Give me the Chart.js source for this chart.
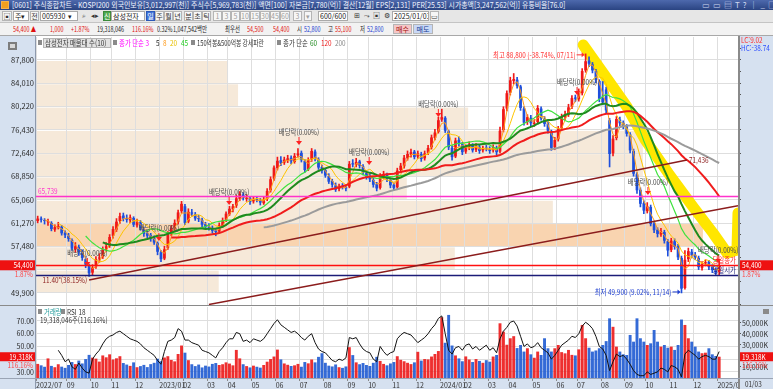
<!DOCTYPE html>
<html lang="ko">
<head>
<meta charset="utf-8">
<title>주식종합차트</title>
<script src="https://cdn.jsdelivr.net/npm/chart.js@4.4.1/dist/chart.umd.min.js"></script>
<style>
  body { margin:0; width:773px; height:389px; overflow:hidden; position:relative; background:#fff;
         font-family:"Noto Sans CJK KR","Noto Sans",sans-serif; font-size:8px; }
  .t { position:absolute; white-space:nowrap; line-height:12px; font-size:8px; transform:scaleX(0.78); transform-origin:0 50%; }
  #title { position:absolute; left:0; top:0; width:773px; height:10px; background:linear-gradient(#4d69ad,#2a4482); color:#f2f5ff; overflow:hidden; }
  #title .t { line-height:10px; top:0; }
  #tool { position:absolute; left:0; top:10px; width:773px; height:13px; background:#e6e6e6; border-bottom:1px solid #c4c4c4; box-sizing:border-box; }
  #info { position:absolute; left:0; top:23px; width:773px; height:13px; background:#f2f2f2; border-bottom:1px solid #a8a8a8; box-sizing:border-box; }
  #info .t { font-size:7.5px; transform:scaleX(0.72); }
  .box { position:absolute; top:1px; height:10px; background:#fff; border:1px solid #a9a9a9; box-sizing:border-box; line-height:8px; font-size:7px; padding-left:1px; white-space:nowrap; color:#222; overflow:hidden; }
  .btn { position:absolute; top:1px; height:10px; background:#f6f6f6; border:1px solid #b5b5b5; box-sizing:border-box; line-height:8px; text-align:center; font-size:7px; color:#333; }
  .off { color:#a0a0a0; }
  canvas { position:absolute; left:0; }
  #pc { top:36px; }
  #vc { top:306px; }
  #sep { position:absolute; left:0; top:305px; width:773px; height:1px; background:#8a8a8a; }
</style>
</head>
<body>
<div id="title">
  <div style="position:absolute;left:1px;top:1px;width:8px;height:8px;background:#f0a020;border:1px solid #fff3;box-sizing:border-box"></div>
  <span class="t" id="ttl" style="left:12px">[0601] 주식종합차트 - KOSPI200 외국인보유[3,012,997(천)] 주식수[5,969,783(천)] 액면[100] 자본금[7,780(억)] 결산[12월] EPS[2,131] PER[25.53] 시가총액[3,247,562(억)] 유통비율[76.0]</span>
  <span class="t" style="left:702px;color:#cfd8f0;letter-spacing:3px;transform:none">▭▭▤T?│_□×</span>
</div>
<div id="tool">
  <div class="btn" style="left:2px;width:10px">▣</div>
  <div class="box" style="left:13px;width:16px">주▾</div>
  <div class="btn" style="left:30px;width:9px">전</div>
  <div class="box" style="left:40px;width:38px">005930&nbsp;&nbsp;▾</div>
  <div class="btn" style="left:79px;width:9px;background:none;border:none">⌕</div>
  <div class="btn" style="left:88px;width:13px;background:none;border:none">◂▸</div>
  <div class="btn" style="left:103px;width:8px;background:#4ea84e;color:#fff;border-color:#3a8a3a">신</div>
  <div class="box" style="left:111px;width:34px">삼성전자</div>
  <div class="btn" style="left:146px;width:9px;background:#3f72d8;color:#fff;border-color:#2b58b8">일</div>
  <div class="btn" style="left:155px;width:9px">주</div>
  <div class="btn" style="left:164px;width:9px">월</div>
  <div class="btn" style="left:173px;width:9px">년</div>
  <div class="btn" style="left:184px;width:9px">분</div>
  <div class="btn" style="left:193px;width:9px">초</div>
  <div class="btn" style="left:202px;width:9px">틱</div>
  <div class="btn off" style="left:213px;width:9px">1</div>
  <div class="btn off" style="left:222px;width:9px">3</div>
  <div class="btn off" style="left:231px;width:9px">5</div>
  <div class="btn off" style="left:240px;width:10px">10</div>
  <div class="btn off" style="left:250px;width:10px">15</div>
  <div class="btn off" style="left:260px;width:10px">30</div>
  <div class="btn off" style="left:270px;width:10px">45</div>
  <div class="btn off" style="left:280px;width:10px">60</div>
  <div class="btn off" style="left:293px;width:9px">3</div>
  <div class="btn off" style="left:304px;width:8px">▾</div>
  <div class="box" style="left:318px;width:30px;text-align:right;padding-right:1px">600/600</div>
  <div class="btn" style="left:352px;width:9px;background:none;border:none">⊞</div>
  <div class="btn" style="left:362px;width:9px;background:none;border:none">⤳</div>
  <div class="btn" style="left:372px;width:9px;background:none;border:none">▣</div>
  <div class="btn" style="left:382px;width:9px;background:none;border:none">⚙</div>
  <div class="box" style="left:392px;width:37px">2025/01/03</div>
  <div class="btn" style="left:430px;width:9px">▭</div>
</div>
<div id="info">
  <span class="t" style="left:13px;color:#e01010">54,400 ▲</span>
  <span class="t" style="left:50px;color:#e01010">1,000</span>
  <span class="t" style="left:71px;color:#e01010">+1.87%</span>
  <span class="t" style="left:97px;color:#222">19,318,046</span>
  <span class="t" style="left:132px;color:#e01010">116.16%</span>
  <span class="t" style="left:157px;color:#222">0.32%</span>
  <span class="t" style="left:173px;color:#222">1,047,542백만</span>
  <span class="t" style="left:225px;color:#222">최우선</span>
  <span class="t" style="left:247px;color:#e01010">54,500</span>
  <span class="t" style="left:273px;color:#e01010">54,400</span>
  <span class="t" style="left:297px;color:#222">시</span>
  <span class="t" style="left:304px;color:#1a3ad0">52,800</span>
  <span class="t" style="left:328px;color:#222">고</span>
  <span class="t" style="left:335px;color:#e01010">55,100</span>
  <span class="t" style="left:360px;color:#222">저</span>
  <span class="t" style="left:367px;color:#1a3ad0">52,800</span>
  <div class="btn" style="left:393px;width:19px;background:#f6c6c6;color:#a01010">매수</div>
  <div class="btn" style="left:413px;width:20px;background:#c8d8f6;color:#1a3a90">매도</div>
</div>
<canvas id="pc" width="773" height="270"></canvas>
<canvas id="vc" width="773" height="83"></canvas>
<div id="sep"></div>
<script>
const F = '"Noto Sans CJK KR","Noto Sans",sans-serif';
const panelBlue = '#d6e1f0';
const upColor = '#f01818', downColor = '#1e4fdc';

// prices in thousand won, one bar = 3 trading days (2022/07/22 ~ 2025/01/03)
const opens = [
  61.6,62.0,61.7,61.4,61.3,60.2,60.5,60.7,59.7,59.2, 58.5,57.0,57.4,56.5,55.4,54.4,53.2,54.2,55.5,55.8,
  57.1,57.6,59.2,60.2,61.6,62.5,62.1,61.7,62.1,60.9, 61.4,60.3,59.6,59.3,58.9,58.0,56.5,55.5,57.2,59.6,
  60.4,61.4,63.2,64.0,61.5,63.0,62.7,62.1,61.8,61.1, 60.7,60.4,60.1,59.9,60.8,61.8,62.7,63.5,64.1,65.2,
  65.9,65.2,65.3,64.8,65.1,65.0,64.5,65.2,66.6,68.5, 70.2,71.5,71.1,71.5,71.9,71.2,72.3,72.7,71.4,70.0,
  71.6,72.9,71.6,70.4,69.9,68.9,68.1,67.4,66.8,67.3, 67.0,67.2,71.0,70.7,71.3,70.5,69.4,68.9,68.3,67.6,
  67.0,68.8,69.1,68.3,67.5,67.1,69.9,70.5,71.8,72.4, 72.9,72.1,72.5,71.8,72.7,73.6,75.1,76.1,78.1,78.4,
  76.2,73.5,72.1,74.8,74.1,72.9,73.5,73.9,73.2,73.7, 73.1,73.5,73.3,73.1,73.5,72.9,76.4,79.9,82.5,84.4,
  84.6,83.5,79.9,77.7,78.4,77.4,77.7,79.9,78.2,77.5, 76.2,73.6,74.9,76.7,78.5,78.9,80.2,81.7,81.4,82.4,
  86.1,87.7,87.1,86.0,84.4,81.6,83.0,78.0,72.6,75.1, 78.1,77.6,77.0,75.7,73.0,69.2,66.7,64.5,63.2,63.9,
  61.2,60.2,59.4,59.8,58.3,56.9,58.3,57.5,55.6,50.7, 55.4,56.6,56.1,55.6,54.0,54.7,55.0,54.2,53.7,53.3
];
const highs = [
  62.4,62.3,62.0,61.9,61.5,61.0,61.4,60.9,60.0,59.6, 58.7,58.1,57.7,56.9,55.8,54.6,54.5,55.8,56.3,57.4,
  58.1,59.4,60.7,62.0,62.9,62.9,62.6,62.6,62.3,61.9, 61.7,60.6,60.0,59.6,59.2,58.2,56.8,57.5,59.9,60.9,
  61.8,63.4,64.8,64.3,63.6,63.5,63.0,62.5,62.1,61.4, 61.2,60.8,60.4,61.3,62.1,63.1,64.0,64.3,65.8,66.4,
  66.2,65.9,65.6,65.6,65.6,65.3,65.5,66.9,68.8,70.6, 72.0,72.1,72.0,72.3,72.2,72.6,73.4,73.0,71.6,71.9,
  73.4,73.2,71.9,70.7,70.2,69.3,68.4,67.8,67.6,67.7, 67.4,71.3,71.6,71.8,71.5,70.8,69.8,69.3,68.6,67.9,
  69.3,69.7,69.4,68.6,67.8,70.2,71.0,72.3,73.0,73.3, 73.1,73.0,72.8,73.0,73.9,75.6,76.5,78.5,79.8,78.6,
  76.4,73.8,75.1,75.3,74.4,74.0,74.5,74.2,74.2,74.0, 73.8,73.9,73.7,74.0,73.8,76.9,80.2,82.8,85.0,85.6,
  85.0,83.7,80.2,78.9,78.8,78.1,80.4,80.2,78.6,77.8, 76.4,75.2,77.0,79.0,79.5,80.6,82.0,82.1,83.1,86.4,
  88.8,88.3,87.4,86.3,84.6,84.3,83.4,78.3,75.5,78.6, 78.5,77.9,77.3,76.0,73.3,69.5,67.0,64.9,64.6,64.2,
  61.6,60.5,60.4,60.1,58.6,58.8,58.7,57.8,55.9,56.8, 57.2,57.0,56.5,55.9,55.0,55.3,55.2,54.5,54.0,55.1
];
const lows = [
  61.3,61.4,61.1,60.9,60.0,59.9,60.3,59.3,58.9,58.3, 56.8,56.5,56.0,55.2,54.0,52.6,52.8,53.9,54.9,55.5,
  56.7,57.3,58.8,59.9,61.2,61.6,61.4,61.3,60.7,60.6, 60.1,59.1,58.8,58.3,57.8,56.1,55.0,55.3,57.0,59.2,
  60.1,61.1,62.9,61.0,61.3,62.4,61.7,61.5,60.7,60.3, 60.1,59.6,59.2,59.7,60.6,61.5,62.5,63.1,63.8,64.9,
  65.0,64.8,64.3,64.5,64.7,64.2,64.3,64.9,66.3,68.2, 69.9,70.6,70.8,71.1,70.9,71.0,72.0,71.2,69.5,69.8,
  71.3,71.4,70.0,69.4,68.7,67.7,67.1,66.4,66.5,66.8, 66.5,67.0,70.4,70.4,70.2,69.1,68.4,68.0,67.1,66.5,
  66.8,68.5,68.0,67.0,66.6,66.9,69.5,70.2,71.5,72.0, 71.7,71.8,71.3,71.5,72.4,73.3,74.8,75.9,77.8,76.0,
  73.2,71.5,71.9,73.8,72.4,72.6,73.2,72.8,72.9,72.6, 72.8,73.0,72.6,72.8,72.3,72.7,76.1,79.5,82.1,83.9,
  83.2,79.6,77.2,77.3,77.1,77.0,77.5,78.0,77.0,75.9, 73.1,73.2,74.6,76.4,78.1,78.6,79.9,81.0,81.1,82.1,
  85.8,86.7,85.7,84.1,81.0,80.5,79.2,70.4,72.2,74.8, 77.1,76.6,75.4,72.7,68.9,66.1,63.9,62.8,62.9,60.8,
  59.7,59.0,59.1,58.0,55.9,56.6,57.0,55.3,49.9,50.5, 55.0,55.6,55.3,53.7,53.6,54.3,53.7,53.2,52.8,52.8
];
const closes = [
  62.0,61.8,61.6,61.5,60.3,60.6,60.8,59.6,59.3,58.7, 57.1,57.5,56.6,55.6,54.5,53.1,54.0,55.4,55.6,57.0,
  57.5,59.0,60.3,61.5,62.4,62.0,61.8,62.2,61.0,61.5, 60.4,59.5,59.2,58.8,58.1,56.6,55.4,57.0,59.5,60.5,
  61.3,63.0,64.4,61.3,63.1,62.8,62.0,61.9,61.0,60.6, 60.5,60.0,59.8,60.9,61.7,62.8,63.6,64.0,65.3,66.0,
  65.3,65.4,64.7,65.2,65.0,64.6,65.1,66.5,68.4,70.3, 71.4,71.0,71.6,71.8,71.3,72.2,72.6,71.5,69.9,71.5,
  73.0,71.7,70.3,69.8,69.0,68.0,67.5,66.7,67.2,67.1, 66.9,70.9,70.8,71.2,70.6,69.5,68.8,68.4,67.5,66.9,
  68.9,69.2,68.4,67.4,67.0,69.8,70.6,71.9,72.5,72.8, 72.0,72.6,71.7,72.6,73.5,75.2,76.0,78.0,78.5,76.3,
  73.6,72.0,74.7,74.2,72.8,73.6,74.0,73.1,73.8,73.0, 73.4,73.4,73.0,73.6,72.8,76.3,79.8,82.4,84.5,84.7,
  83.6,80.0,77.6,78.5,77.5,77.6,80.0,78.3,77.4,76.3, 73.5,74.8,76.6,78.6,79.0,80.1,81.6,81.5,82.3,86.0,
  87.6,87.2,86.1,84.5,81.5,80.9,79.6,72.5,75.0,78.2, 77.5,77.1,75.8,73.1,69.3,66.6,64.4,63.3,64.0,61.1,
  60.1,59.5,59.9,58.4,56.8,58.4,57.4,55.7,50.6,55.3, 56.7,56.0,55.7,54.1,54.6,54.9,54.1,53.6,53.2,54.4
];
// volume in thousand shares
const volumes = [
  12800,11500,10200,17800,11000,9800,12500,10300,9200,11800, 14500,12600,15800,13200,17200,21000,18500,17600,14900,20500,
  18800,21500,16800,17900,19800,13600,12200,11000,14200,9800, 10800,11900,9900,12600,13800,17500,15200,18600,19800,16400,
  15100,21800,29500,23000,16200,12500,10800,12200,9600,11200, 10400,12800,13600,11800,12500,14200,13100,11500,25500,17800,
  12500,10800,9600,11200,10200,9400,11800,14800,17200,19500, 25800,16900,13200,12000,10900,11500,12800,10200,14500,13300,
  16800,14200,19200,22500,13800,11200,10500,12300,9800,9200, 10500,28000,20800,14200,12500,13600,11800,10900,13800,19200,
  15500,12800,11500,13200,14500,19800,16500,15200,13800,12600, 14200,23800,15800,17200,16900,19500,21800,24500,55200,32000,
  57300,29500,20500,17800,15200,19600,16800,14500,17200,15500, 13800,16200,14800,19500,20900,49700,42100,30200,36100,38000,
  27200,30000,24000,27000,21500,18400,24000,20900,36100,27000, 24000,27000,30000,23500,22400,25500,21000,20500,26000,48200,
  36100,27500,24000,25000,27000,30000,33500,54200,46500,28500, 24000,21500,20900,39100,33000,54200,36100,33000,30000,31500,
  43600,33000,28500,30000,27500,28500,25500,30000,53100,48200, 36100,33000,28500,24000,22500,23000,27000,21500,20000,19318
];
const rsi18 = [
  null,null,null,null,null,null,47,43,38,40, 34,32,37,33,30,29,40,44,47,52,
  56,58,59,61,62,60,58,56,55,54, 52,49,47,45,43,39,36,46,54,55,
  57,64,62,55,55,53,52,51,47,46, 45,43,41,46,49,53,56,56,61,60,
  54,55,53,56,55,54,56,60,64,68, 71,67,65,63,61,62,60,57,55,58,
  60,53,48,46,45,42,39,38,40,39, 41,57,56,57,52,48,46,45,40,38,
  50,46,43,45,46,56,59,61,60,59, 56,53,55,57,60,64,67,72,74,60,
  47,44,49,50,47,51,52,48,50,47, 49,51,47,49,45,56,62,65,69,70,
  66,58,50,52,49,50,53,49,47,45, 40,43,47,51,53,55,58,57,60,66,
  69,67,64,58,50,48,43,31,38,44, 42,43,40,36,31,28,27,27,30,28,
  29,30,33,32,30,35,34,32,26,44, 47,45,43,40,42,43,42,40,40,46
];
// first bar of each month and its axis label
const monthStarts = [0,9,16,22,29,36,43,50,56,63,70,77,84,91,97,104,111,118,125,132,138,145,152,158,165,172,178,185,192,199];
const monthLabels = ['2022/07','09','10','11','12','2023/01','02','03','04','05','06','07','08','09','10','11','12',
                     '2024/01','02','03','04','05','06','07','08','09','10','11','12','2025/01'];
const priceTicks = [49.9,53.69,57.48,61.27,65.06,68.85,72.64,76.43,80.22,84.01,87.8];
// 매물대 (volume by price band between the ticks above), low band first, relative
const profileVol = [27.4,62.8,100,77.5,55.6,91,91,64.8,30.3,28.8];
// 배당락 labels [bar, price]
const exDivMarks = [[14.5,56.4],[35.4,60.47],[55.9,66.32],[76.3,76.09],[96.8,72.83],[117,80.64],[157.5,84.22],[178.2,67.95],[198.7,56.89]];
const trendA = [[15.0,52.01],[189.6,71.53]];
const trendB = [[50,48.02],[204.5,64.08]];
const bandPts = [[159.3,90.24],[165.1,85.68],[172.1,80.15],[177.4,74.79],[184.1,69.42],[191.4,63.89],[197.2,59.65],[201.3,56.4],[204.2,56.89],[204.5,62.91]];
const lastPrice = 54.4, dayOpen = 52.8, levelPrice = 65.739;
const highBar = 160, highPrice = 88.8, lowBar = 188, lowPrice = 49.9;
const lastVolume = 19318;

function sma(arr, n) {
  return arr.map((v, i) => {
    if (i < n - 1) return {x: i, y: null};
    let s = 0;
    for (let k = i - n + 1; k <= i; k++) s += arr[k];
    return {x: i, y: s / n};
  });
}
// narrow text, the HTS font is a condensed bitmap font
function txt(ctx, s, x, y, color, align, size, sx) {
  ctx.save();
  ctx.font = (size || 8) + 'px ' + F;
  ctx.fillStyle = color;
  ctx.textAlign = align || 'left';
  ctx.textBaseline = 'middle';
  ctx.translate(x, y);
  ctx.scale(sx || 0.8, 1);
  ctx.fillText(s, 0, 0);
  ctx.restore();
}
function won(v) { return Math.round(v * 1000).toLocaleString('en-US'); }

const barColor = closes.map((c, i) => c >= opens[i] ? upColor : downColor);

const pricePlugin = {
  id: 'priceDeco',
  beforeDraw(chart) {
    const {ctx, chartArea: a, scales: {y}} = chart;
    ctx.save();
    ctx.fillStyle = panelBlue;
    ctx.fillRect(0, 0, a.left, chart.height);
    ctx.fillRect(a.right, 0, chart.width - a.right, chart.height);
    const maxV = Math.max(...profileVol);
    profileVol.forEach((v, k) => {
      const top = y.getPixelForValue(priceTicks[k + 1]), bot = y.getPixelForValue(priceTicks[k]);
      ctx.fillStyle = v === maxV ? '#f9d4b0' : '#f6e9d9';
      ctx.fillRect(a.left, top + 1, (a.right - a.left) * 0.95 * v / maxV, bot - top - 1);
    });
    ctx.restore();
  },
  beforeDatasetsDraw(chart) {
    const {ctx, chartArea: a, scales: {x, y}} = chart;
    ctx.save();
    ctx.beginPath(); ctx.rect(a.left, a.top, a.right - a.left, a.bottom - a.top); ctx.clip();
    ctx.strokeStyle = '#ffe600'; ctx.lineWidth = 11; ctx.lineJoin = 'round'; ctx.lineCap = 'round';
    ctx.beginPath();
    bandPts.forEach(([j, p], k) => {
      const px = x.getPixelForValue(j), py = y.getPixelForValue(p);
      k ? ctx.lineTo(px, py) : ctx.moveTo(px, py);
    });
    ctx.stroke();
    ctx.restore();
  },
  afterDatasetsDraw(chart) {
    const {ctx, chartArea: a, scales: {x, y}} = chart;
    ctx.save();
    ctx.beginPath(); ctx.rect(a.left, a.top, a.right - a.left, a.bottom - a.top); ctx.clip();
    const hline = (p, c, w) => {
      const py = Math.round(y.getPixelForValue(p)) + 0.5;
      ctx.strokeStyle = c; ctx.lineWidth = w;
      ctx.beginPath(); ctx.moveTo(a.left, py); ctx.lineTo(a.right, py); ctx.stroke();
    };
    hline(levelPrice, '#ff33cc', 1.5);
    hline(lastPrice, '#ff1010', 1.5);
    hline(dayOpen, '#1c1c78', 1.5);
    [trendA, trendB].forEach(t => {
      ctx.strokeStyle = '#8b1c1c'; ctx.lineWidth = 1.5;
      ctx.beginPath();
      ctx.moveTo(x.getPixelForValue(t[0][0]), y.getPixelForValue(t[0][1]));
      ctx.lineTo(x.getPixelForValue(t[1][0]), y.getPixelForValue(t[1][1]));
      ctx.stroke();
    });
    // 배당락 marks
    exDivMarks.forEach(([j, p]) => {
      const px = x.getPixelForValue(j), py = y.getPixelForValue(p);
      txt(ctx, '배당락(0.00%)', px, py, '#4a4a4a', 'center');
      ctx.strokeStyle = '#ff2020'; ctx.fillStyle = '#ff2020'; ctx.lineWidth = 1;
      ctx.beginPath(); ctx.moveTo(px, py + 5); ctx.lineTo(px, py + 10); ctx.stroke();
      ctx.beginPath(); ctx.moveTo(px - 3, py + 9); ctx.lineTo(px + 3, py + 9); ctx.lineTo(px, py + 13); ctx.closePath(); ctx.fill();
    });
    // high / low labels
    const arrowTo = (px, py, c) => {
      ctx.strokeStyle = c; ctx.fillStyle = c; ctx.lineWidth = 1;
      ctx.beginPath(); ctx.moveTo(px - 9, py); ctx.lineTo(px - 2, py); ctx.stroke();
      ctx.beginPath(); ctx.moveTo(px - 4, py - 2.5); ctx.lineTo(px - 4, py + 2.5); ctx.lineTo(px - 1, py); ctx.closePath(); ctx.fill();
    };
    let hx = x.getPixelForValue(highBar), hy = y.getPixelForValue(highPrice);
    txt(ctx, '최고 ' + won(highPrice) + ' (-38.74%, 07/11)', hx - 10, hy + 1, '#ff3030', 'right');
    arrowTo(hx, hy + 1, '#ff3030');
    let lx = x.getPixelForValue(lowBar), ly = y.getPixelForValue(lowPrice);
    txt(ctx, '최저 ' + won(lowPrice) + ' (9.02%, 11/14)', lx - 10, ly - 1, '#2040d0', 'right');
    arrowTo(lx, ly - 1, '#2040d0');
    // trend line labels
    txt(ctx, '11.40°(38.15%)', x.getPixelForValue(trendA[0][0]) - 2, y.getPixelForValue(trendA[0][1]), '#8b1c1c', 'right');
    txt(ctx, won(trendA[1][1] - 0.094), x.getPixelForValue(trendA[1][0]) + 2, y.getPixelForValue(trendA[1][1]), '#8b1c1c', 'left');
    // level labels
    txt(ctx, won(levelPrice), a.left + 2, y.getPixelForValue(levelPrice) - 5, '#ff33cc', 'left');
    txt(ctx, '당일종가', a.right - 2, y.getPixelForValue(lastPrice) - 5, '#ff2020', 'right');
    txt(ctx, '당일시가', a.right - 2, y.getPixelForValue(dayOpen) - 5, '#1c1c78', 'right');
    ctx.restore();
  },
  afterDraw(chart) {
    const {ctx, chartArea: a, scales: {y}} = chart;
    ctx.save();
    // borders
    ctx.fillStyle = '#8d99ad'; ctx.fillRect(a.left - 1, 0, 1, chart.height);
    ctx.fillStyle = '#8a8a8a'; ctx.fillRect(a.right, 0, 2, chart.height);
    // panel button
    ctx.fillStyle = '#7d7d7d'; ctx.fillRect(8, 6, 9, 8);
    ctx.fillStyle = '#d8d8d8'; ctx.fillRect(10, 8, 5, 4);
    // legend strip
    const sq = (px) => { ctx.fillStyle = '#8a8a8a'; ctx.fillRect(px, 4, 4, 5); };
    sq(38);
    ctx.fillStyle = '#e2e2e2'; ctx.fillRect(43, 2, 68, 10);
    ctx.strokeStyle = '#b4b4b4'; ctx.lineWidth = 1; ctx.strokeRect(43.5, 2.5, 67, 9);
    txt(ctx, '삼성전자 매물대 수(10)', 45, 7, '#333', 'left');
    sq(113);
    txt(ctx, '종가 단순 3', 119, 7, '#ff00ff', 'left');
    txt(ctx, '5', 156, 7, '#222', 'left');
    txt(ctx, '8', 163, 7, '#ff9a1a', 'left');
    txt(ctx, '20', 170, 7, '#e8c000', 'left');
    txt(ctx, '45', 181, 7, '#22cc22', 'left');
    sq(191);
    txt(ctx, '150억봉&500억봉 강세파란', 197, 7, '#333', 'left', 8, 0.72);
    sq(277);
    txt(ctx, '종가 단순', 283, 7, '#333', 'left');
    txt(ctx, '60', 310, 7, '#1e8a1e', 'left');
    txt(ctx, '120', 321, 7, '#f01c1c', 'left');
    txt(ctx, '200', 335, 7, '#8a8a8a', 'left');
    // LC / HC
    txt(ctx, 'LC:9.02', a.right + 3, 4, '#ff3030', 'left');
    txt(ctx, 'HC:-38.74', a.right + 3, 12, '#3050ff', 'left');
    // current price boxes
    const py = y.getPixelForValue(lastPrice);
    ctx.fillStyle = '#ee1111';
    ctx.fillRect(0, py - 5, a.left - 1, 10);
    ctx.fillRect(a.right + 2, py - 5, chart.width - a.right - 2, 10);
    txt(ctx, won(lastPrice), a.left - 3, py, '#fff', 'right');
    txt(ctx, won(lastPrice), a.right + 4, py, '#fff', 'left');
    txt(ctx, '1.87%', a.left - 3, py + 9, '#ff4646', 'right');
    txt(ctx, '1.87%', a.right + 4, py + 9, '#ff4646', 'left');
    ctx.restore();
  }
};

const volPlugin = {
  id: 'volDeco',
  beforeDraw(chart) {
    const {ctx, chartArea: a} = chart;
    ctx.save();
    ctx.fillStyle = panelBlue;
    ctx.fillRect(0, 0, a.left, chart.height);
    ctx.fillRect(a.right, 0, chart.width - a.right, chart.height);
    ctx.fillRect(0, a.bottom, chart.width, chart.height - a.bottom);
    ctx.restore();
  },
  afterDraw(chart) {
    const {ctx, chartArea: a, scales: {yV}} = chart;
    ctx.save();
    ctx.fillStyle = panelBlue; ctx.fillRect(a.right, a.bottom + 1, chart.width - a.right, chart.height - a.bottom);
    ctx.fillStyle = '#8d99ad'; ctx.fillRect(a.left - 1, 0, 1, chart.height);
    ctx.fillStyle = '#8a8a8a'; ctx.fillRect(a.right, 0, 2, chart.height);
    ctx.fillStyle = '#9aa4b4'; ctx.fillRect(0, a.bottom, chart.width, 1);
    ctx.fillStyle = '#8a8a8a'; ctx.fillRect(38, 3, 4, 5); ctx.fillRect(61, 3, 4, 5);
    txt(ctx, '거래량', 44, 6, '#1f9a9a', 'left');
    txt(ctx, 'RSI 18', 67, 6, '#333', 'left');
    txt(ctx, '19,318,046주(116.16%)', 40, 14, '#333', 'left');
    ctx.fillStyle = '#8a8a8a'; ctx.fillRect(763, 3, 6, 5);
    const vy = yV.getPixelForValue(lastVolume);
    ctx.fillStyle = '#ee1111';
    ctx.fillRect(0, vy - 4.5, a.left - 1, 9);
    ctx.fillRect(a.right + 2, vy - 4.5, chart.width - a.right - 2, 9);
    const lbl = lastVolume.toLocaleString('en-US') + 'K';
    txt(ctx, lbl, a.left - 3, vy, '#fff', 'right');
    txt(ctx, lbl, a.right + 4, vy, '#fff', 'left');
    txt(ctx, '116.16%', a.left - 3, vy + 8, '#ff4646', 'right');
    txt(ctx, '116.16%', a.right + 4, vy + 8, '#ff4646', 'left');
    txt(ctx, '01/03', a.right + 7, a.bottom + 6, '#333', 'left');
    ctx.restore();
  }
};

const gridColor = '#dedede';
const xCommon = {
  type: 'linear', min: -0.5, max: 204.5, offset: false,
  afterBuildTicks: s => { s.ticks = monthStarts.map(v => ({value: v - 0.5})); },
  border: {display: false}
};

new Chart(document.getElementById('pc'), {
  type: 'bar',
  data: {
    datasets: [
      {type: 'line', data: sma(closes, 67), borderColor: '#9b9b9b', borderWidth: 2, pointRadius: 0, order: 0},
      {type: 'line', data: sma(closes, 40), borderColor: '#f01c1c', borderWidth: 2, pointRadius: 0, order: 0},
      {type: 'line', data: sma(closes, 20), borderColor: '#1e8a1e', borderWidth: 2, pointRadius: 0, order: 0},
      {type: 'line', data: sma(closes, 15), borderColor: '#3ee23e', borderWidth: 1.2, pointRadius: 0, order: 0},
      {type: 'line', data: sma(closes, 7), borderColor: '#ffc400', borderWidth: 1, pointRadius: 0, order: 0},
      {type: 'line', data: sma(closes, 3), borderColor: '#ff9a1a', borderWidth: 1, pointRadius: 0, order: 0},
      {data: closes.map((c, i) => ({x: i, y: [lows[i], highs[i]]})), backgroundColor: barColor,
       barThickness: 1, grouped: false, order: 2},
      {data: closes.map((c, i) => ({x: i, y: [opens[i], c]})), backgroundColor: barColor,
       barPercentage: 0.8, categoryPercentage: 1, grouped: false, minBarLength: 1, order: 1}
    ]
  },
  options: {
    responsive: false, animation: false, events: [], devicePixelRatio: 1,
    layout: {padding: {top: 1, bottom: 1, left: 0, right: 0}},
    plugins: {legend: {display: false}, tooltip: {enabled: false}},
    scales: {
      x: Object.assign({}, xCommon, {
        afterFit: s => { s.height = 0; s.paddingLeft = 0; s.paddingRight = 0; },
        ticks: {display: false},
        grid: {color: gridColor, drawTicks: false, offset: false}
      }),
      y: {
        position: 'left', min: 47.938, max: 91.542,
        afterBuildTicks: s => { s.ticks = priceTicks.map(v => ({value: v})); },
        afterFit: s => { s.width = 36; s.paddingTop = 0; s.paddingBottom = 0; },
        ticks: {font: {size: 7.5, family: F}, color: '#2a2a2a', padding: 2,
                callback: v => v === 53.69 ? '' : won(v)},
        grid: {color: gridColor, drawTicks: false},
        border: {display: false}
      },
      yr: {
        position: 'right', min: 47.938, max: 91.542,
        afterBuildTicks: s => {
          const t = [];
          for (let k = -1; k <= 22; k++) t.push({value: 49.9 + k * 1.895});
          s.ticks = t.filter(o => o.value >= 47.938 && o.value <= 91.542);
        },
        afterFit: s => { s.width = 35; s.paddingTop = 0; s.paddingBottom = 0; },
        ticks: {display: false},
        grid: {drawOnChartArea: false, tickLength: 3, color: '#555'},
        border: {display: false}
      }
    }
  },
  plugins: [pricePlugin]
});

new Chart(document.getElementById('vc'), {
  type: 'bar',
  data: {
    datasets: [
      {type: 'line', data: rsi18.map((v, i) => ({x: i, y: v})), borderColor: '#111', borderWidth: 1,
       pointRadius: 0, yAxisID: 'yR', order: 0},
      {data: volumes.map((v, i) => ({x: i, y: v})), backgroundColor: barColor.map(c => c === upColor ? 'rgba(236,24,24,0.9)' : 'rgba(30,90,210,0.9)'),
       barPercentage: 0.85, categoryPercentage: 1, yAxisID: 'yV', order: 1}
    ]
  },
  options: {
    responsive: false, animation: false, events: [], devicePixelRatio: 1,
    layout: {padding: {top: 1, bottom: 0, left: 0, right: 0}},
    plugins: {legend: {display: false}, tooltip: {enabled: false}},
    scales: {
      x: Object.assign({}, xCommon, {
        afterFit: s => { s.height = 11; s.paddingLeft = 0; s.paddingRight = 0; },
        ticks: {autoSkip: false, maxRotation: 0, align: 'start', padding: 0,
                font: {size: 7, family: F}, color: '#333', callback: (v, i) => monthLabels[i]},
        grid: {color: gridColor, offset: false, tickLength: 3, tickColor: '#888'}
      }),
      yR: {
        position: 'left', min: 25.2, max: 81,
        afterBuildTicks: s => { s.ticks = [30, 40, 50, 60, 70].map(v => ({value: v})); },
        afterFit: s => { s.width = 36; s.paddingTop = 0; s.paddingBottom = 0; },
        ticks: {font: {size: 7, family: F}, color: '#2a2a2a', padding: 2,
                callback: v => v === 40 ? '' : v.toFixed(2)},
        grid: {color: gridColor, drawTicks: false},
        border: {display: false}
      },
      yV: {
        position: 'right', min: 0, max: 64500,
        afterBuildTicks: s => { s.ticks = [10000, 20000, 30000, 40000, 50000].map(v => ({value: v})); },
        afterFit: s => { s.width = 35; s.paddingTop = 0; s.paddingBottom = 0; },
        ticks: {font: {size: 7, family: F}, color: '#2a2a2a', padding: 1,
                callback: v => v === 20000 ? '' : v.toLocaleString('en-US') + 'K'},
        grid: {drawOnChartArea: false, tickLength: 3, color: '#555'},
        border: {display: false}
      }
    }
  },
  plugins: [volPlugin]
});

// squeeze the window title into the width it has in the original
const ttl = document.getElementById('ttl');
ttl.style.transform = 'scaleX(' + (553 / ttl.offsetWidth) + ')';
</script>
</body>
</html>
